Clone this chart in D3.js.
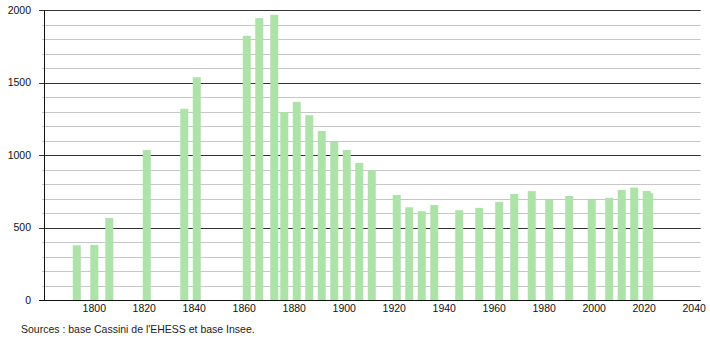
<!DOCTYPE html>
<html>
<head>
<meta charset="utf-8">
<script src="https://d3js.org/d3.v7.min.js"></script>
<style>
body { margin: 0; background: #fff; font-family: "Liberation Sans", Arial, sans-serif; }
</style>
</head>
<body>
<div id="chart"></div>
<script>

var width = 710;
var height = 340;

// census years and population
var years = [1793, 1800, 1806, 1821, 1836, 1841, 1861, 1866, 1872, 1876, 1881, 1886,
	1891, 1896, 1901, 1906, 1911, 1921, 1926, 1931, 1936, 1946, 1954, 1962, 1968,
	1975, 1982, 1990, 1999, 2006, 2011, 2016, 2021, 2022];
var population = [378, 380, 566, 1036, 1320, 1538, 1824, 1946, 1969, 1297, 1368, 1276,
	1167, 1094, 1036, 946, 896, 725, 640, 613, 656, 620, 636, 677, 732,
	751, 694, 718, 693, 705, 760, 776, 753, 737];

var xTicks = [1800, 1820, 1840, 1860, 1880, 1900, 1920, 1940, 1960, 1980, 2000, 2020, 2040];
var yMajor = [0, 500, 1000, 1500, 2000];
var yMinor = d3.range(100, 2000, 100).filter(function (v) { return v % 500 != 0; });

var data = years.map(function (y, i) { return { year: y, pop: population[i] }; });

var svg = d3.select("#chart").append("svg").attr("width", width).attr("height", height);

var xScale = d3.scaleLinear().domain([1780, 2042.6]).range([44.3, 700.7]);
var yScale = d3.scaleLinear().domain([0, 2000]).range([300, 10.3]);

// minor grid lines and short ticks
svg.selectAll(".minor").data(yMinor)
.enter().append("line")
.attr("class", "minor")
.attr("x1", 42).attr("x2", xScale.range()[1])
.attr("y1", function (d) { return Math.round(yScale(d)) + 0.5; })
.attr("y2", function (d) { return Math.round(yScale(d)) + 0.5; })
.style("stroke", "#c6c6c6");

// major grid lines (behind the bars)
svg.selectAll(".major").data(yMajor)
.enter().append("line")
.attr("class", "major")
.attr("x1", 39).attr("x2", xScale.range()[1])
.attr("y1", function (d) { return Math.round(yScale(d)) + 0.5; })
.attr("y2", function (d) { return Math.round(yScale(d)) + 0.5; })
.style("stroke", "#333");

// bars
svg.selectAll(".bar").data(data)
.enter().append("rect")
.attr("class", "bar")
.attr("x", function (d) { return xScale(d.year) - 4; })
.attr("width", 8)
.attr("y", function (d) { return yScale(d.pop); })
.attr("height", function (d) { return Math.round(yScale(0)) - yScale(d.pop); })
.style("fill", "#ade2a9");

// axis lines on top
svg.append("line")
.attr("x1", 44.5).attr("x2", 44.5)
.attr("y1", yScale(2000)).attr("y2", yScale(0) + 0.5)
.style("stroke", "#111");

svg.append("line")
.attr("x1", 39).attr("x2", xScale.range()[1])
.attr("y1", Math.round(yScale(0)) + 0.5).attr("y2", Math.round(yScale(0)) + 0.5)
.style("stroke", "#111");

svg.selectAll(".ylabel").data(yMajor)
.enter().append("text")
.attr("class", "ylabel")
.attr("x", 31)
.attr("y", function (d) { return yScale(d) + 3.5; })
.attr("text-anchor", "end")
.style("font-size", "10.5px")
.style("fill", "#111")
.text(function (d) { return d; });

svg.selectAll(".xlabel").data(xTicks)
.enter().append("text")
.attr("class", "xlabel")
.attr("x", function (d) { return xScale(d); })
.attr("y", 312)
.attr("text-anchor", "middle")
.style("font-size", "10.5px")
.style("fill", "#111")
.text(function (d) { return d; });

svg.append("text")
.attr("x", 21)
.attr("y", 333)
.style("font-size", "10.5px")
.style("fill", "#222")
.text("Sources : base Cassini de l'EHESS et base Insee.");

</script>
</body>
</html>
